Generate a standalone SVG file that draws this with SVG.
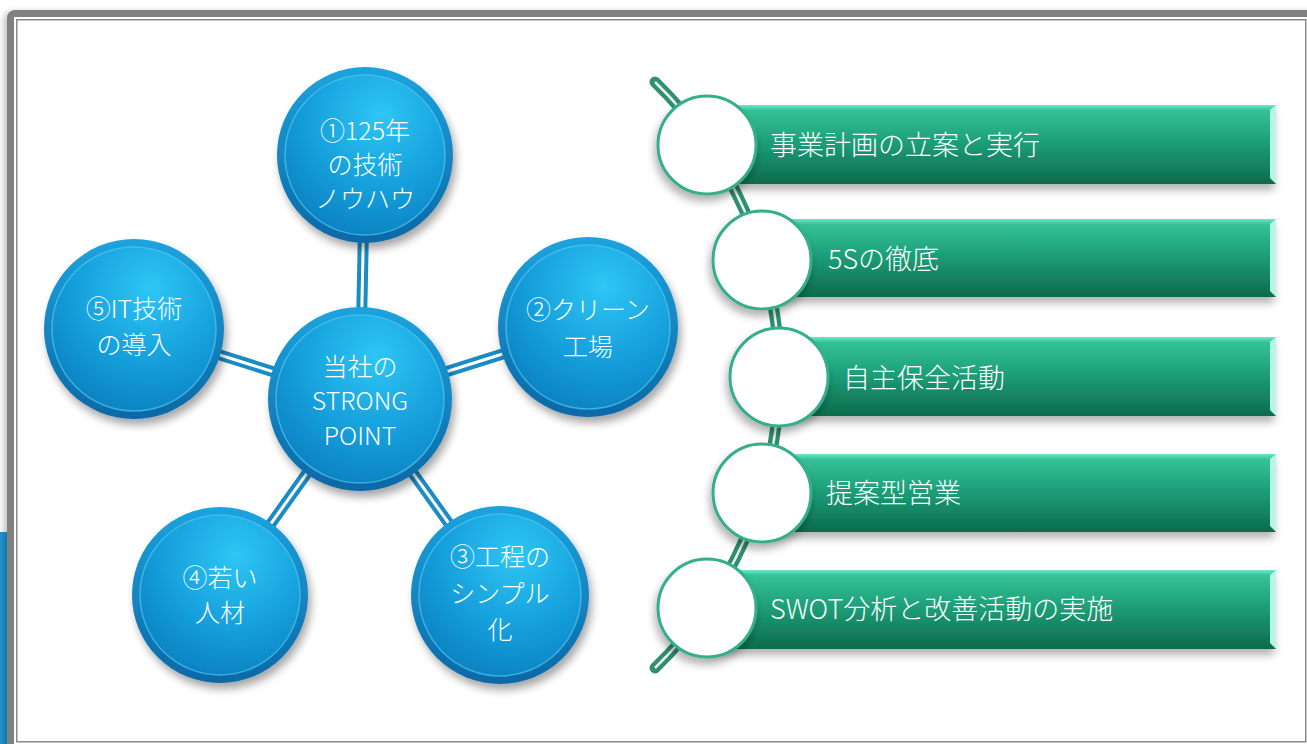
<svg xmlns="http://www.w3.org/2000/svg" width="1307" height="744" viewBox="0 0 1307 744">
<style>
.t{font-family:"Noto Sans CJK JP","Liberation Sans",sans-serif;fill:#fff;font-size:25px;font-weight:300;}
.b{font-size:27px;}
.c{text-anchor:middle;}
.conn{stroke:#1a8cc4;stroke-width:11;stroke-linecap:butt;}
.connw{stroke:#ffffff;stroke-width:3;}
.ring{fill:url(#blueRing);filter:url(#sh);}
.disc{fill:url(#blueDisc);stroke:#4cc8f2;stroke-width:1.5;stroke-opacity:0.7;}
.bar{fill:url(#greenBar);}
.wc{fill:#fff;stroke:#35ae8a;stroke-width:3;}
</style>
<defs>
<filter id="sh" x="-30%" y="-30%" width="160%" height="170%">
<feDropShadow dx="3" dy="6" stdDeviation="4" flood-color="#000" flood-opacity="0.35"/>
</filter>
<filter id="sh2" x="-10%" y="-30%" width="120%" height="170%">
<feDropShadow dx="-2" dy="6" stdDeviation="4" flood-color="#000" flood-opacity="0.3"/>
</filter>
<filter id="fsh" x="-5%" y="-5%" width="110%" height="110%">
<feDropShadow dx="-3" dy="2" stdDeviation="3" flood-color="#000" flood-opacity="0.25"/>
</filter>
<radialGradient id="blueDisc" cx="60%" cy="25%" r="80%">
<stop offset="0" stop-color="#2ec6f4"/>
<stop offset="0.6" stop-color="#149dda"/>
<stop offset="1" stop-color="#0c80c0"/>
</radialGradient>
<linearGradient id="blueRing" x1="0" y1="0" x2="0" y2="1">
<stop offset="0" stop-color="#1ca3de"/>
<stop offset="1" stop-color="#0b68a6"/>
</linearGradient>
<linearGradient id="greenBar" x1="0" y1="0" x2="0" y2="1">
<stop offset="0" stop-color="#6fe6c6"/>
<stop offset="0.07" stop-color="#35c295"/>
<stop offset="0.45" stop-color="#1ea07a"/>
<stop offset="1" stop-color="#0c6b4b"/>
</linearGradient>
</defs>

<g id="frame">
<rect x="0" y="532" width="7" height="212" fill="#1e96d0"/>
<rect x="7" y="10" width="1320" height="760" rx="8" fill="#808080" filter="url(#fsh)"/>
<rect x="14" y="17" width="1300" height="740" fill="#ffffff"/>
<rect x="16.75" y="19.75" width="1289" height="722" fill="none" stroke="#8a8a8a" stroke-width="1.5"/>
</g>

<g id="connectors">
<line class="conn" x1="360" y1="399" x2="365" y2="155"/>
<line class="conn" x1="360" y1="399" x2="588" y2="327"/>
<line class="conn" x1="360" y1="399" x2="500" y2="595"/>
<line class="conn" x1="360" y1="399" x2="220" y2="595"/>
<line class="conn" x1="360" y1="399" x2="134" y2="328"/>
<line class="connw" x1="360" y1="399" x2="365" y2="155"/>
<line class="connw" x1="360" y1="399" x2="588" y2="327"/>
<line class="connw" x1="360" y1="399" x2="500" y2="595"/>
<line class="connw" x1="360" y1="399" x2="220" y2="595"/>
<line class="connw" x1="360" y1="399" x2="134" y2="328"/>
<path d="M655,82 A408,408 0 0 1 655,668" fill="none" stroke="#2f8f6f" stroke-width="11" stroke-linecap="round"/>
<path d="M655,82 A408,408 0 0 1 655,668" fill="none" stroke="#ffffff" stroke-width="2.5" stroke-opacity="0.9"/>
</g>

<g id="n1">
<circle class="ring" cx="365" cy="155" r="88"/>
<circle class="disc" cx="365" cy="155" r="80"/>
<text class="t c" x="365" y="140">①125年</text>
<text class="t c" x="365" y="174">の技術</text>
<text class="t c" x="365" y="208">ノウハウ</text>
</g>
<g id="n2">
<circle class="ring" cx="588" cy="327" r="90"/>
<circle class="disc" cx="588" cy="327" r="82"/>
<text class="t c" x="588" y="319">②クリーン</text>
<text class="t c" x="588" y="356">工場</text>
</g>
<g id="n3">
<circle class="ring" cx="500" cy="595" r="89"/>
<circle class="disc" cx="500" cy="595" r="81"/>
<text class="t c" x="500" y="566">③工程の</text>
<text class="t c" x="500" y="603">シンプル</text>
<text class="t c" x="500" y="639">化</text>
</g>
<g id="n4">
<circle class="ring" cx="220" cy="595" r="88"/>
<circle class="disc" cx="220" cy="595" r="80"/>
<text class="t c" x="220" y="587">④若い</text>
<text class="t c" x="220" y="622">人材</text>
</g>
<g id="n5">
<circle class="ring" cx="134" cy="329" r="90"/>
<circle class="disc" cx="134" cy="329" r="82"/>
<text class="t c" x="134" y="318">⑤IT技術</text>
<text class="t c" x="134" y="354">の導入</text>
</g>
<g id="center">
<circle class="ring" cx="360" cy="399" r="92"/>
<circle class="disc" cx="360" cy="399" r="84"/>
<text class="t c" x="360" y="376">当社の</text>
<text class="t c" x="360" y="410">STRONG</text>
<text class="t c" x="360" y="445">POINT</text>
</g>

<g id="item1">
<rect class="bar" x="707" y="105" width="569" height="79" filter="url(#sh2)"/>
<polygon points="1270,110 1276,105 1276,184 1270,178" fill="#b8f5e6"/>
<circle class="wc" cx="707" cy="145" r="49" filter="url(#sh2)"/>
<text class="t b" x="770" y="155">事業計画の立案と実行</text>
</g>
<g id="item2">
<rect class="bar" x="762" y="219" width="514" height="78" filter="url(#sh2)"/>
<polygon points="1270,224 1276,219 1276,297 1270,291" fill="#b8f5e6"/>
<circle class="wc" cx="762" cy="260" r="49" filter="url(#sh2)"/>
<text class="t b" x="828" y="269">5Sの徹底</text>
</g>
<g id="item3">
<rect class="bar" x="779" y="337" width="497" height="79" filter="url(#sh2)"/>
<polygon points="1270,342 1276,337 1276,416 1270,410" fill="#b8f5e6"/>
<circle class="wc" cx="779" cy="377" r="49" filter="url(#sh2)"/>
<text class="t b" x="843" y="388">自主保全活動</text>
</g>
<g id="item4">
<rect class="bar" x="762" y="454" width="514" height="78" filter="url(#sh2)"/>
<polygon points="1270,459 1276,454 1276,532 1270,526" fill="#b8f5e6"/>
<circle class="wc" cx="762" cy="493" r="49" filter="url(#sh2)"/>
<text class="t b" x="826" y="503">提案型営業</text>
</g>
<g id="item5">
<rect class="bar" x="707" y="570" width="569" height="79" filter="url(#sh2)"/>
<polygon points="1270,575 1276,570 1276,649 1270,643" fill="#b8f5e6"/>
<circle class="wc" cx="707" cy="608" r="49" filter="url(#sh2)"/>
<text class="t b" x="770" y="619">SWOT分析と改善活動の実施</text>
</g>
</svg>
